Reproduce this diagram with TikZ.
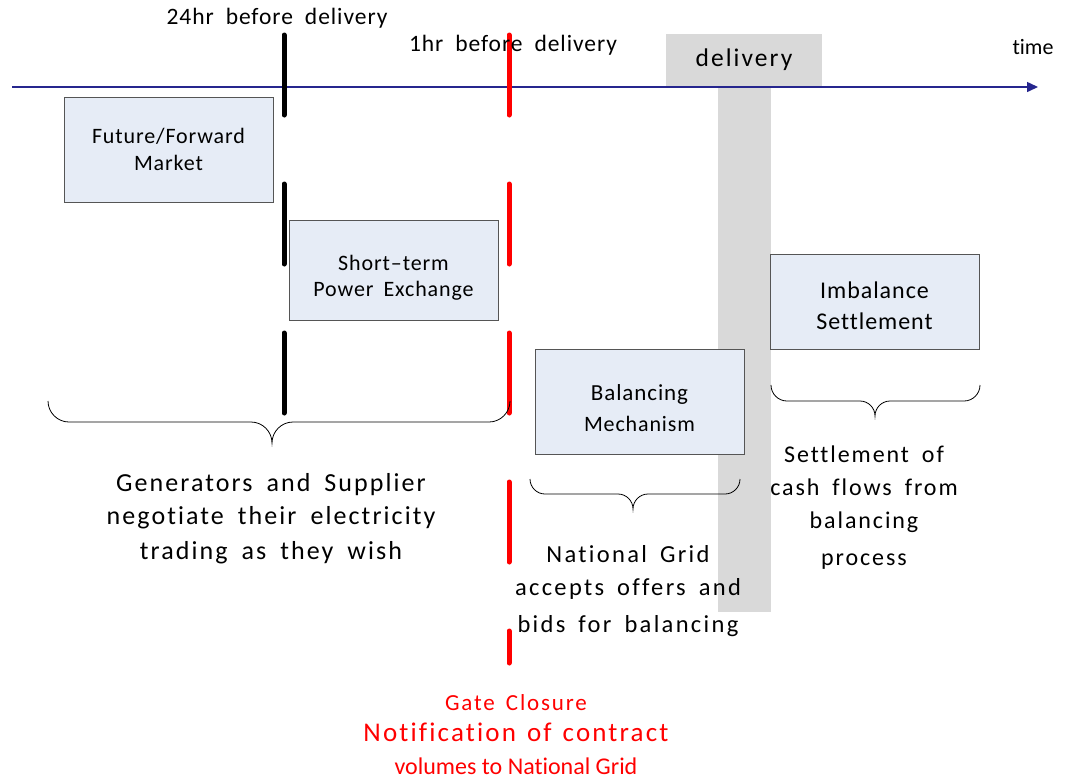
\documentclass[tikz,border=0pt]{standalone}
\usepackage{fontspec}
\setmainfont[Ligatures={NoCommon}]{Carlito}
\newfontfamily\wfont[LetterSpace=8,Ligatures={NoCommon}]{Carlito}
\newfontfamily\xfont[LetterSpace=9.5,Ligatures={NoCommon}]{Carlito}
\newfontfamily\mfont[LetterSpace=4,Ligatures={NoCommon}]{Carlito}
\newfontfamily\pfont[Ligatures={NoCommon}]{Carlito}
\usetikzlibrary{arrows.meta}
\definecolor{boxfill}{HTML}{E6ECF6}
\definecolor{boxline}{HTML}{555555}
\definecolor{axisblue}{HTML}{26268E}
\definecolor{delgray}{HTML}{D9D9D9}
\definecolor{gcred}{HTML}{FF0000}
\newcommand\obr[6]{%
  \draw[bracestyle] (#1,#4) .. controls (#1,{#4+0.55*(#5-#4)}) and ({#1+0.45*(#5-#4)},#5) .. ({#1+(#5-#4)},#5)
    -- ({#3-(#6-#5)},#5) .. controls ({#3-0.45*(#6-#5)},#5) and (#3,{#6-0.55*(#6-#5)}) .. (#3,#6)
    .. controls (#3,{#6-0.55*(#6-#5)}) and ({#3+0.45*(#6-#5)},#5) .. ({#3+(#6-#5)},#5)
    -- ({#2-(#5-#4)},#5) .. controls ({#2-0.45*(#5-#4)},#5) and (#2,{#4+0.55*(#5-#4)}) .. (#2,#4);}
\begin{document}
\begin{tikzpicture}[x=1pt,y=-1pt,
  box/.style={draw=boxline, fill=boxfill, line width=1pt, minimum width=209pt, align=center, inner sep=0pt},
  lbl/.style={font=\mfont\fontsize{23.5}{26}\selectfont, inner sep=0pt, execute at begin node={\spaceskip=12pt\relax}},
  wide/.style={font=\wfont\fontsize{24}{33}\selectfont, align=center, inner sep=0pt, execute at begin node={\spaceskip=13pt\relax}},
  bracestyle/.style={draw=black, line width=0.8pt},
  tick/.style={line width=5pt, line cap=round, dash pattern=on 80pt off 69pt},
  axisline/.style={draw=axisblue, line width=1.5pt, -{Triangle[length=11pt,width=10pt]}}
]
\useasboundingbox (0,0) rectangle (1068,780);
% delivery band
\fill[delgray] (718,86) rectangle (771,612);
\node[fill=delgray, minimum width=156pt, minimum height=52pt, inner sep=0pt,
      font=\wfont\fontsize{25.5}{30}\selectfont] (delbox) at (744,60) {delivery};
% time axis
\coordinate (axl) at (12,87);
\coordinate (axr) at (1038,87);
\draw[axisline] (axl) -- (axr);
\node[font=\pfont\fontsize{22}{26}\selectfont, inner sep=0pt] (time) at (1033,47) {time};
% timeline markers
\coordinate (b1) at (284,35);
\coordinate (b2) at (284,413);
\coordinate (r1) at (509,35);
\coordinate (r2) at (509,663);
\draw[tick, black] (b1) -- (b2);
\draw[tick, gcred] (r1) -- (r2);
\node[lbl] (t24) at (277,18) {24hr before delivery};
\node[lbl] (t1) at (513,45) {1hr before delivery};
% boxes
\node[box, minimum height=105pt, font=\mfont\fontsize{22}{27}\selectfont] (ffm) at (168.5,149.5) {Future/Forward\\Market};
\node[box, minimum height=100pt, font=\mfont\fontsize{22}{26}\selectfont, execute at begin node={\spaceskip=10pt\relax}] (spe) at (393.5,270) {\rule{0pt}{30pt}Short–term\\Power Exchange};
\node[box, minimum height=105pt, font=\mfont\fontsize{23}{31}\selectfont] (bm) at (639.5,401.5) {\rule{0pt}{30pt}Balancing\\{\fontsize{22}{26}\selectfont Mechanism}};
\node[box, minimum height=95pt, font=\mfont\fontsize{24}{31}\selectfont] (is) at (874.5,301.5) {\rule{0pt}{26pt}Imbalance\\Settlement};
% braces
\obr{48}{510}{272}{401}{422}{443}
\obr{530}{740}{633}{479}{494}{509}
\obr{771}{980}{875}{385}{401}{416}
% explanations
\node[wide, font=\wfont\fontsize{26}{33}\selectfont, execute at begin node={\spaceskip=14pt\relax}] (gen) at (271,519) {Generators and Supplier\\negotiate their electricity\\[2pt]trading as they wish};
\node[wide, font=\xfont\fontsize{24.5}{33}\selectfont] (ng) at (628,591) {National Grid\\accepts offers and\\[4pt]bids for balancing};
\node[wide] (set) at (864,508) {Settlement of\\cash flows from\\balancing\\[4pt]process};
\node[align=center, inner sep=0pt, text=gcred, font=\wfont\fontsize{23}{31}\selectfont,
      execute at begin node={\spaceskip=11pt\relax}] (gc) at (516,735)
  {Gate Closure\\{\fontsize{27}{31}\selectfont Notification of contract}\\[2pt]{\pfont\fontsize{24}{28}\selectfont\spaceskip=0pt volumes to National Grid}};
\end{tikzpicture}
\end{document}
